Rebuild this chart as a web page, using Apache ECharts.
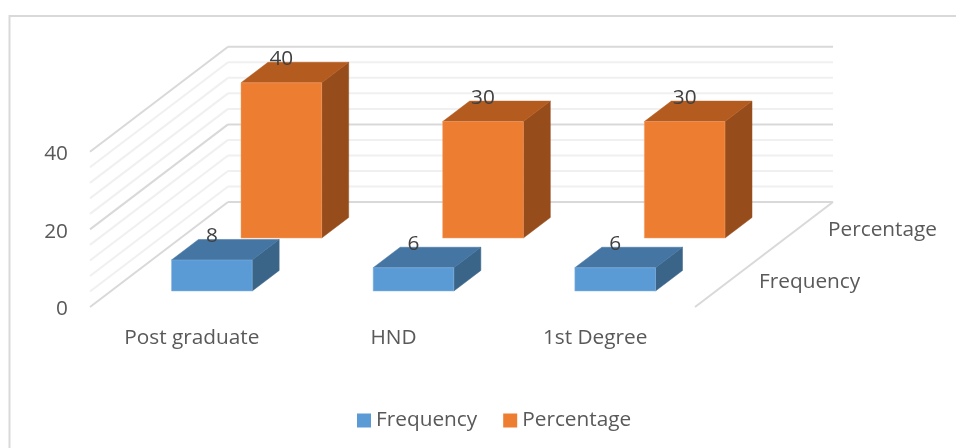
<!DOCTYPE html>
<html>
<head>
<meta charset="utf-8">
<style>
  html, body { margin: 0; padding: 0; background: #fff; }
  #chart { width: 956px; height: 448px; }
</style>
<script src="https://cdn.jsdelivr.net/npm/echarts@6/dist/echarts.min.js"></script>
</head>
<body>
<div id="chart"></div>
<script>
// Qualification levels and their counts / shares
const categories = ['Post graduate', 'HND', '1st Degree'];
const frequency = [8, 6, 6];
const percentage = [40, 30, 30];
const wallTicks = [0, 4, 8, 12, 16, 20, 24, 28, 32, 36, 40];
const depthLabels = ['Frequency', 'Percentage'];

// Oblique projection used for the pseudo-3D floor, walls and boxes
const FONT = '"Open Sans", sans-serif';
const FONT_SIZE = 20.8;
const WALL = { dx: 138, dy: -105 };
const BOX = { dx: 27, dy: -20.5, widthRatio: 0.4 };
const ROWS = {
  Frequency: { dx: 21, dy: -16, front: '#5B9BD5', top: '#4575A2', side: '#3B6489', edge: '#86B6E2' },
  Percentage: { dx: 90.5, dy: -69, front: '#ED7D31', top: '#B45C20', side: '#974D1B', edge: '#F3A36E' }
};

function line(x1, y1, x2, y2, color, width) {
  return {
    type: 'line',
    shape: { x1, y1, x2, y2 },
    style: { stroke: color, lineWidth: width }
  };
}

// Left wall and back wall gridlines, plus the floor's right edge
function renderWalls(params, api) {
  const cs = params.coordSys;
  const value = api.value(0);
  const y = api.coord([0, value])[1];
  const color = value % 20 === 0 ? '#d9d9d9' : '#f0f0f0';
  const left = cs.x;
  const right = cs.x + cs.width;
  const children = [
    line(left, y, left + WALL.dx, y + WALL.dy, color, 2),
    line(left + WALL.dx, y + WALL.dy, right + WALL.dx, y + WALL.dy, color, 2)
  ];
  if (value === 0) {
    children.push(line(right, y, right + WALL.dx, y + WALL.dy, '#d9d9d9', 2));
  }
  return { type: 'group', children };
}

// One box: front, top and side faces, with its value above the front face
function renderBox(params, api) {
  const row = ROWS[params.seriesName];
  const base = api.coord([api.value(0), 0]);
  const head = api.coord([api.value(0), api.value(1)]);
  const w = api.size([1, 0])[0] * BOX.widthRatio;
  const x0 = base[0] - w / 2 + row.dx;
  const x1 = x0 + w;
  const yb = base[1] + row.dy;
  const yt = head[1] + row.dy;
  const poly = (points, fill, stroke, lineWidth) => ({
    type: 'polygon',
    shape: { points },
    style: { fill, stroke, lineWidth }
  });
  return {
    type: 'group',
    children: [
      poly([[x1, yb], [x1 + BOX.dx, yb + BOX.dy], [x1 + BOX.dx, yt + BOX.dy], [x1, yt]], row.side, row.side, 0.5),
      poly([[x0, yt], [x1, yt], [x1 + BOX.dx, yt + BOX.dy], [x0 + BOX.dx, yt + BOX.dy]], row.top, row.top, 0.5),
      poly([[x0, yb], [x1, yb], [x1, yt], [x0, yt]], row.front, row.edge, 0.5),
      {
        type: 'text',
        z2: 10,
        style: {
          x: (x0 + x1) / 2,
          y: yt - 24,
          text: String(api.value(1)),
          fill: '#404040',
          font: FONT_SIZE + 'px ' + FONT,
          align: 'center',
          verticalAlign: 'middle'
        }
      }
    ]
  };
}

// Series names along the floor's right edge
function renderDepthLabel(params, api) {
  const cs = params.coordSys;
  const y0 = api.coord([0, 0])[1];
  const i = params.dataIndex;
  return {
    type: 'text',
    style: {
      x: cs.x + cs.width + (i === 0 ? 64 : 133),
      y: y0 + (i === 0 ? -25 : -77),
      text: depthLabels[i],
      fill: '#595959',
      font: FONT_SIZE + 'px ' + FONT,
      align: 'left',
      verticalAlign: 'middle'
    }
  };
}

const boxSeries = (name, values, z) => ({
  type: 'custom',
  name,
  z,
  clip: false,
  silent: true,
  itemStyle: { color: ROWS[name].front },
  renderItem: renderBox,
  encode: { x: 0, y: 1 },
  data: values.map((v, i) => [i, v])
});

const chart = echarts.init(document.getElementById('chart'), null, { renderer: 'canvas' });
chart.setOption({
  animation: false,
  backgroundColor: '#ffffff',
  textStyle: { fontFamily: FONT },
  graphic: [{
    type: 'polyline',
    silent: true,
    shape: { points: [[9.5, 448], [9.5, 16], [956, 16]] },
    style: { fill: 'none', stroke: '#d9d9d9', lineWidth: 2 }
  }],
  legend: {
    left: 352,
    top: 405,
    itemWidth: 14,
    itemHeight: 14,
    itemGap: 26,
    icon: 'rect',
    data: depthLabels,
    textStyle: { color: '#595959', fontSize: FONT_SIZE, fontFamily: FONT }
  },
  grid: { left: 90, top: 151.8, width: 605, height: 155.2 },
  xAxis: {
    type: 'category',
    data: categories,
    axisLine: { show: false },
    axisTick: { show: false },
    axisLabel: {
      color: '#595959',
      fontSize: FONT_SIZE,
      margin: 21,
      fontFamily: FONT,
      padding: [0, 0, 0, 2]
    }
  },
  yAxis: {
    type: 'value',
    min: 0,
    max: 40,
    interval: 20,
    axisLine: { show: false },
    axisTick: { show: false },
    splitLine: { show: false },
    axisLabel: {
      margin: 22,
      formatter: '{tick|{value}}',
      rich: {
        tick: {
          color: '#595959',
          fontSize: FONT_SIZE,
          fontFamily: FONT,
          padding: [5, 0, 0, 0]
        }
      }
    }
  },
  series: [
    {
      type: 'custom',
      z: 1,
      clip: false,
      silent: true,
      renderItem: renderWalls,
      encode: { y: 0 },
      data: wallTicks.map(v => [v])
    },
    {
      type: 'custom',
      z: 1,
      clip: false,
      silent: true,
      renderItem: renderDepthLabel,
      encode: { x: 0 },
      data: depthLabels.map((_, i) => [i])
    },
    boxSeries('Percentage', percentage, 2),
    boxSeries('Frequency', frequency, 3)
  ]
});
</script>
</body>
</html>
